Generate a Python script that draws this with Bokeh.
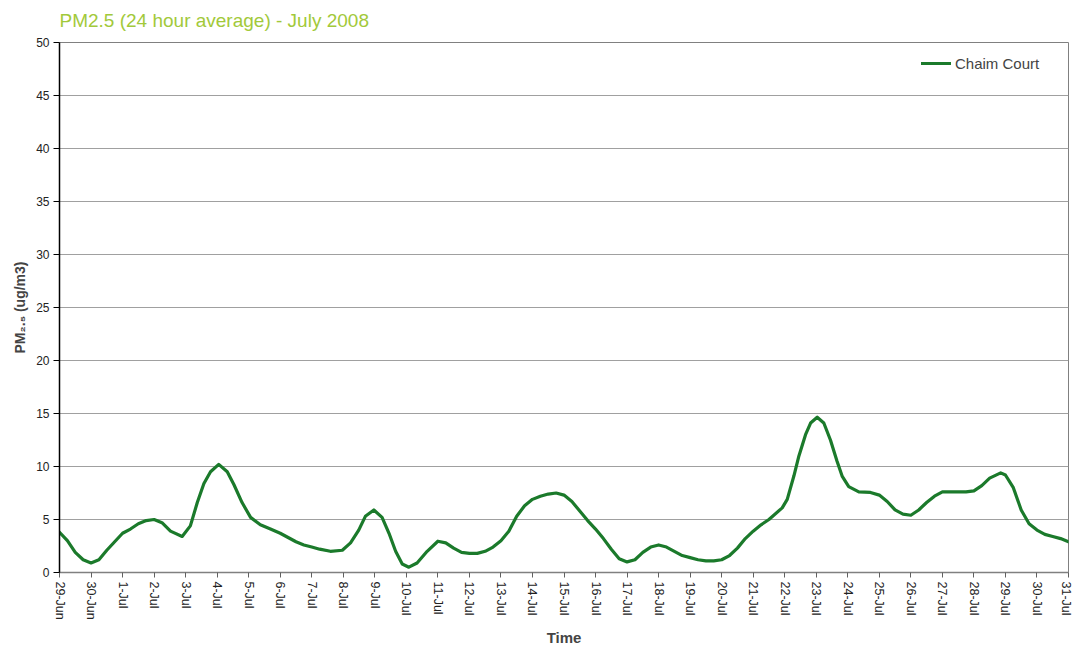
from bokeh.plotting import figure
from bokeh.models import FixedTicker, Legend, LegendItem, ColumnDataSource
from bokeh.embed import file_html
from bokeh.resources import INLINE

# ---- data (days since 29-Jun, PM2.5 24h average in ug/m3) ----
days = [0, 0.25, 0.5, 0.75, 1, 1.25, 1.5, 1.75, 2, 2.25, 2.5, 2.75, 3, 3.25, 3.52, 3.89,
        4.15, 4.37, 4.58, 4.79, 5.05, 5.32, 5.53, 5.79, 6.06, 6.37, 6.69, 7, 7.25, 7.5, 7.75,
        8, 8.25, 8.59, 8.97, 9.23, 9.49, 9.7, 9.97, 10.23, 10.45, 10.66, 10.87, 11.08, 11.34,
        11.66, 12, 12.25, 12.5, 12.75, 13, 13.25, 13.5, 13.75, 14, 14.25, 14.5, 14.75, 15,
        15.25, 15.5, 15.75, 16, 16.25, 16.5, 16.75, 17, 17.25, 17.5, 17.75, 18, 18.25, 18.5,
        18.75, 19, 19.25, 19.5, 19.75, 20, 20.25, 20.5, 20.75, 21, 21.25, 21.5, 21.75, 22,
        22.25, 22.5, 22.92, 23.08, 23.29, 23.45, 23.66, 23.82, 24.03, 24.24, 24.45, 24.66,
        24.82, 25.03, 25.35, 25.72, 26, 26.25, 26.5, 26.75, 27, 27.25, 27.5, 27.75, 28, 28.25,
        28.5, 28.75, 29, 29.25, 29.5, 29.85, 30, 30.25, 30.5, 30.75, 31, 31.25, 31.5, 31.75, 32]
pm25 = [3.8, 3.0, 1.9, 1.2, 0.9, 1.2, 2.1, 2.9, 3.7, 4.1, 4.6, 4.9, 5.0, 4.7, 3.9, 3.4,
        4.4, 6.6, 8.4, 9.5, 10.2, 9.5, 8.3, 6.6, 5.2, 4.5, 4.1, 3.7, 3.3, 2.9, 2.6,
        2.4, 2.2, 2.0, 2.1, 2.8, 4.0, 5.3, 5.9, 5.2, 3.7, 2.0, 0.8, 0.5, 0.9,
        2.0, 2.95, 2.8, 2.3, 1.9, 1.8, 1.8, 2.0, 2.4, 3.0, 3.9, 5.3, 6.3, 6.9,
        7.2, 7.4, 7.5, 7.3, 6.7, 5.8, 4.9, 4.1, 3.2, 2.2, 1.3, 1.0, 1.2, 1.9,
        2.4, 2.6, 2.4, 2.0, 1.6, 1.4, 1.2, 1.1, 1.1, 1.2, 1.6, 2.3, 3.2, 3.9,
        4.5, 5.0, 6.1, 6.9, 9.1, 11.0, 13.0, 14.1, 14.65, 14.1, 12.5, 10.5,
        9.1, 8.1, 7.6, 7.55, 7.3, 6.7, 5.9, 5.5, 5.4, 5.9, 6.6, 7.2, 7.6, 7.6,
        7.6, 7.6, 7.7, 8.2, 8.9, 9.4, 9.2, 8.0, 5.9, 4.6, 4.0, 3.6, 3.4, 3.2, 2.9]
tick_labels = ["29-Jun", "30-Jun"] + [f"{d}-Jul" for d in range(1, 32)]
y_ticks = [0, 5, 10, 15, 20, 25, 30, 35, 40, 45, 50]
series_name = "Chaim Court"

FONT = "Liberation Sans"

p = figure(width=1072, height=648, output_backend="svg", toolbar_location=None,
           x_range=(0, 32), y_range=(0, 50),
           min_border_left=59, min_border_right=4, min_border_top=42, min_border_bottom=75,
           title="PM2.5 (24 hour average) - July 2008")

p.title.text_color = "#a2c93a"
p.title.text_font = FONT
p.title.text_font_size = "19px"
p.title.text_font_style = "normal"
p.title.offset = 0
p.title.standoff = 19
p.title.vertical_align = "top"

p.background_fill_color = "white"
p.border_fill_color = "white"
p.outline_line_color = "#808080"
p.outline_line_width = 1

src = ColumnDataSource(dict(x=days, y=pm25))
r = p.line("x", "y", source=src, line_color="#1b7a2b", line_width=3.2,
           line_join="round", line_cap="round")

# axes
p.xaxis.ticker = FixedTicker(ticks=list(range(len(tick_labels))))
p.xaxis.major_label_overrides = {i: t for i, t in enumerate(tick_labels)}
p.xaxis.major_label_orientation = "vertical"
p.xaxis.minor_tick_line_color = None
p.xaxis.major_tick_out = 5
p.xaxis.major_tick_in = 0
p.xaxis.axis_line_color = "#808080"
p.xaxis.axis_line_width = 1.5
p.xaxis.major_tick_line_color = "#606060"
p.xaxis.major_label_text_font = FONT
p.xaxis.major_label_text_font_size = "12.5px"
p.xaxis.major_label_text_color = "#222222"
p.xaxis.major_label_standoff = 4
p.xaxis.axis_label = "Time"
p.xaxis.axis_label_text_font = FONT
p.xaxis.axis_label_text_font_size = "15px"
p.xaxis.axis_label_text_font_style = "bold"
p.xaxis.axis_label_standoff = 6

p.yaxis.ticker = FixedTicker(ticks=y_ticks)
p.yaxis.minor_tick_line_color = None
p.yaxis.major_tick_out = 6
p.yaxis.major_tick_in = 0
p.yaxis.axis_line_color = "black"
p.yaxis.axis_line_width = 1.5
p.yaxis.major_tick_line_color = "black"
p.yaxis.major_label_text_font = FONT
p.yaxis.major_label_text_font_size = "12px"
p.yaxis.major_label_text_color = "#222222"
p.yaxis.major_label_standoff = 4
p.yaxis.axis_label = "PM\u2082.\u2085 (ug/m3)"
p.yaxis.axis_label_text_font = FONT
p.yaxis.axis_label_text_font_size = "14px"
p.yaxis.axis_label_text_font_style = "bold"
p.yaxis.axis_label_standoff = 5

p.xgrid.grid_line_color = None
p.ygrid.grid_line_color = "#a0a0a0"
p.ygrid.grid_line_width = 1

legend = Legend(items=[LegendItem(label=series_name, renderers=[r])],
                location=(862, 499), border_line_color=None,
                background_fill_alpha=0, padding=5, spacing=0,
                glyph_width=30, glyph_height=20, label_height=20, label_standoff=4,
                label_text_font=FONT, label_text_font_size="15px")
p.add_layout(legend, "center")

open("out.html", "w").write(file_html(p, INLINE))
